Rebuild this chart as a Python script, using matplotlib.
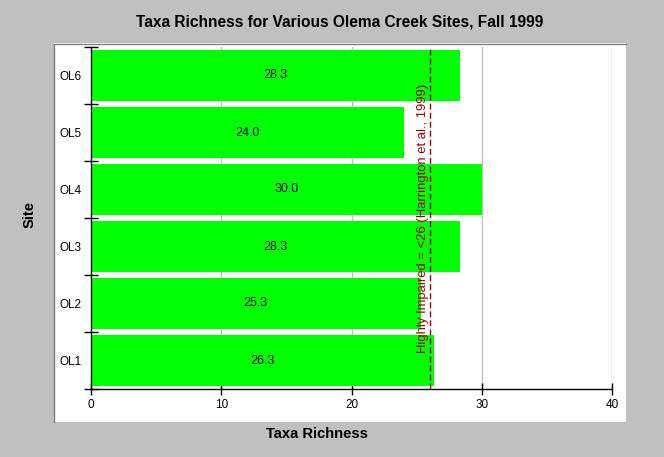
import matplotlib
matplotlib.use("Agg")
import matplotlib.pyplot as plt
from matplotlib.patches import Rectangle
from matplotlib.lines import Line2D

sites = ["OL1", "OL2", "OL3", "OL4", "OL5", "OL6"]
values = [26.3, 25.3, 28.3, 30.0, 24.0, 28.3]
threshold = 26
threshold_label = "Highly Impaired = <26 (Harrington et al., 1999)"
xticks = [0, 10, 20, 30, 40]

plt.rcParams['font.family'] = ['Liberation Sans', 'DejaVu Sans']

fig = plt.figure(figsize=(6.64, 4.57), dpi=100)
fig.patch.set_facecolor('#c0c0c0')
W, H = 664, 457
fig.patches.append(Rectangle((54 / W, 1 - 422 / H), (626 - 54) / W, (422 - 43) / H,
                             transform=fig.transFigure, facecolor='white',
                             edgecolor='none', zorder=-10))
fig.lines.append(Line2D([54 / W, 54 / W, 626 / W], [1 - 422 / H, 1 - 43.5 / H, 1 - 43.5 / H],
                        transform=fig.transFigure, color='#808080', lw=1, zorder=-9))

ax = fig.add_axes([91 / W, 1 - 389 / H, (612 - 91) / W, (389 - 47) / H])
ax.set_zorder(5)
ax.patch.set_alpha(0)

ypos = list(range(len(sites)))
ax.set_xlim(0, 40)
ax.set_ylim(-0.5, len(sites) - 0.5)
for x in xticks[1:]:
    ax.axvline(x, color='#c0c0c0', lw=1, zorder=0)
ax.barh(ypos, values, height=0.9, color='#00ff00', zorder=2)
for y, v in zip(ypos, values):
    ax.text(v / 2, y, f"{v:.1f}", ha='center', va='center', fontsize=9, zorder=4)

ax.axvline(threshold, color='#990000', lw=1, ls=(0, (4.3, 2.2)), zorder=3)
ax.text(threshold - 0.5, 2.5, threshold_label, rotation=90, ha='center', va='center',
        fontsize=9.4, color='#990000', zorder=4)

ax.set_xticks(xticks)
ax.set_xticklabels([str(t) for t in xticks], fontsize=8.5)
ax.set_yticks(ypos)
ax.set_yticklabels(sites, fontsize=8.5)
ax.set_yticks([y - 0.5 for y in ypos] + [len(sites) - 0.5], minor=True)
ax.tick_params(axis='y', which='major', length=0, pad=6.5)
ax.tick_params(axis='y', which='minor', direction='inout', length=10, width=1)
ax.tick_params(axis='x', which='major', direction='inout', length=8, width=1, pad=3)

for s in ['top', 'right']:
    ax.spines[s].set_visible(False)
ax.spines['left'].set_linewidth(1)
ax.spines['bottom'].set_linewidth(1)

fig.text(340 / W, 1 - 22 / H, "Taxa Richness for Various Olema Creek Sites, Fall 1999",
         ha='center', va='center', fontsize=11.2, fontweight='bold')
fig.text(317 / W, 1 - 434 / H, "Taxa Richness", ha='center', va='center',
         fontsize=10.6, fontweight='bold')
fig.text(30 / W, 1 - 215 / H, "Site", ha='center', va='center', rotation=90,
         fontsize=10.6, fontweight='bold')

fig.savefig("out.png", dpi=100, facecolor=fig.get_facecolor())
